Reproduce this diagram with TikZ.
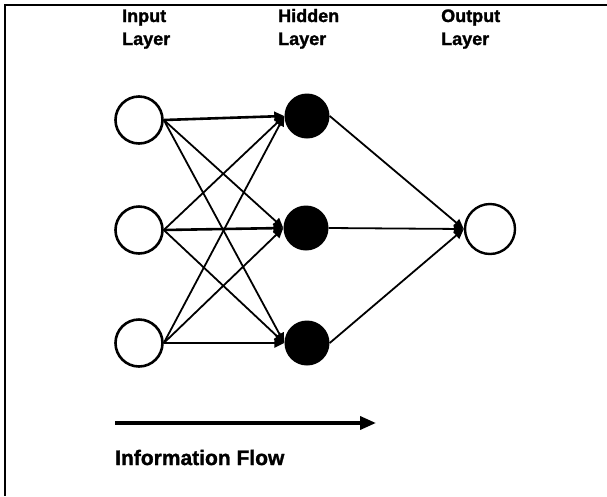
\documentclass[tikz,border=0pt]{standalone}
\usepackage{fontspec}
\setmainfont{Liberation Sans}[BoldFeatures={FakeBold=1.4}]
\usetikzlibrary{arrows.meta}
\begin{document}
\begin{tikzpicture}[x=1pt,y=-1pt,
  lbl/.style={anchor=base west,inner sep=0pt,font=\fontsize{18}{21}\selectfont\bfseries},
  biglbl/.style={lbl,font=\fontsize{21}{25}\selectfont\bfseries},
  inunit/.style={circle,draw,line width=2.6pt,fill=white,minimum size=47pt,inner sep=0pt},
  hidunit/.style={circle,fill=black,minimum size=45pt,inner sep=0pt},
  outunit/.style={circle,draw,line width=2.4pt,fill=white,minimum size=50pt,inner sep=0pt},
  link/.style={line width=1.8pt,-{Triangle[length=10pt,width=9pt]}},
  straight/.style={link,line width=2.6pt}]
\useasboundingbox (0,0) rectangle (607,496);
\fill[white] (0,0) rectangle (607,496);
% frame: only the top and left edges
\coordinate (ftr) at (607,5);
\coordinate (fc) at (5,5);
\coordinate (fbl) at (5,496);
\draw[line width=2.8pt] (ftr) -- (fc) -- (fbl);

% layer titles
\node[lbl] (t1a) at (122,22) {Input};
\node[lbl] (t1b) at (122,45) {Layer};
\node[lbl] (t2a) at (278,22) {Hidden};
\node[lbl] (t2b) at (278,45) {Layer};
\node[lbl] (t3a) at (441,22) {Output};
\node[lbl] (t3b) at (441,45) {Layer};

% units
\node[inunit] (i1) at (139,120) {};
\node[inunit] (i2) at (139,230) {};
\node[inunit] (i3) at (139,343) {};
\node[hidunit] (h1) at (307,116) {};
\node[hidunit] (h2) at (306,228) {};
\node[hidunit] (h3) at (307,343) {};
\node[outunit] (o) at (490,229) {};

% input -> hidden
\draw[straight] (i1.east) -- (h1.west);
\draw[straight] (i2.east) -- (h2.west);
\draw[straight] (i3.east) -- (h3.west);
\draw[link] (i1.east) -- (h2.west);
\draw[link] (i1.east) -- (h3.west);
\draw[link] (i2.east) -- (h1.west);
\draw[link] (i2.east) -- (h3.west);
\draw[link] (i3.east) -- (h1.west);
\draw[link] (i3.east) -- (h2.west);

% hidden -> output
\draw[link] (h1.east) -- (o.west);
\draw[link] (h2.east) -- (o.west);
\draw[link] (h3.east) -- (o.west);

% direction of flow
\coordinate (fa) at (115,423);
\coordinate (fb) at (376,423);
\draw[line width=3.6pt,-{Triangle[length=16pt,width=13pt]}] (fa) -- (fb);
\node[biglbl] (flow) at (115,465) {Information Flow};
\end{tikzpicture}
\end{document}
